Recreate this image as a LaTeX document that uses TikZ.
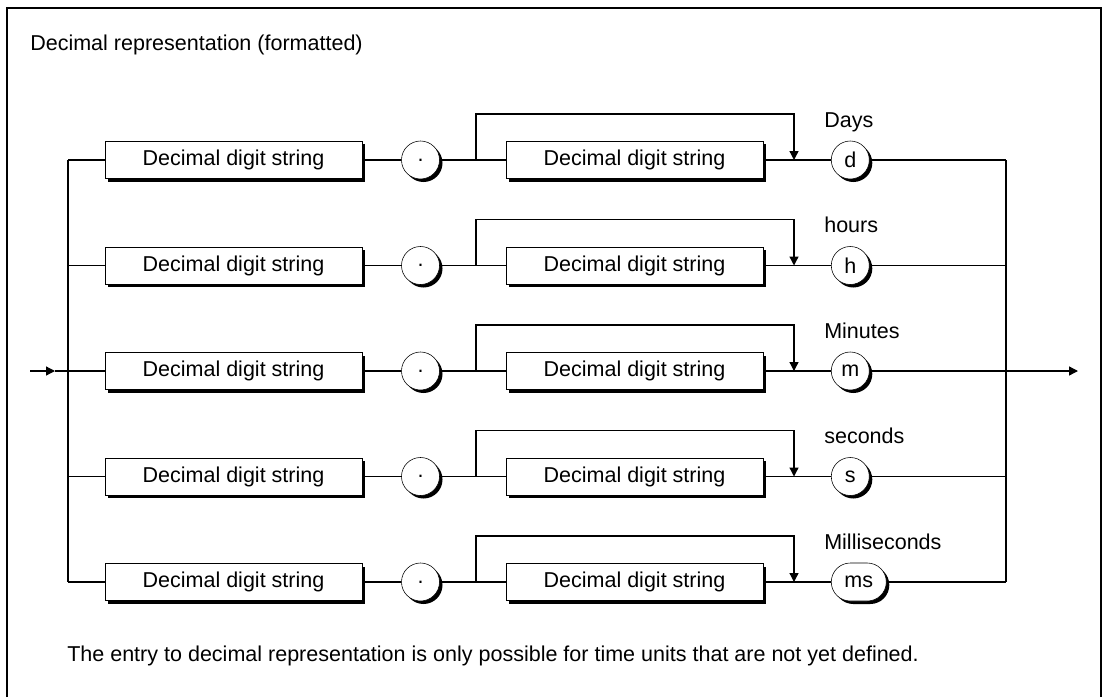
\documentclass[tikz,border=0pt]{standalone}
\usepackage{fontspec}
\setmainfont{Liberation Sans}
\usetikzlibrary{arrows.meta,positioning,shadows}

\tikzset{
  blackshadow/.style={drop shadow={shadow xshift=0.075cm,shadow yshift=-0.075cm,opacity=1,fill=black}},
  digitbox/.style={draw,fill=white,minimum width=6.425cm,minimum height=0.925cm,inner sep=0pt,blackshadow},
  term/.style={draw,fill=white,rounded corners=0.475cm,minimum width=0.95cm,minimum height=0.95cm,inner sep=0pt,blackshadow},
  wire/.style={line width=0.9pt}
}

\begin{document}
\begin{tikzpicture}[x=0.025cm,y=-0.025cm,font=\fontsize{15.3}{18}\selectfont,>={Triangle[length=0.22cm,width=0.22cm]}]
\useasboundingbox (0,0) rectangle (1104,697);
% frame, open at the bottom
\draw[line width=1.4pt] (7,697) -- (7,8) -- (1101,8) -- (1101,697);
\node[anchor=base west,inner sep=0pt] (title) at (30,50) {Decimal representation (formatted)};
% one row per time unit
\foreach \i/\y/\unit/\name/\w in {1/160/d/Days/0.95cm,2/265.5/h/hours/0.95cm,3/371/m/Minutes/0.95cm,4/476.5/s/seconds/0.95cm,5/582/ms/Milliseconds/1.375cm}{
  \node[digitbox] (dds\i) at (233.5,\y) {Decimal digit string};
  \node[term] (dot\i) at (420.5,\y) {.};
  \node[digitbox] (frac\i) at (634.5,\y) {Decimal digit string};
  \node[term,anchor=west,minimum width=\w] (unit\i) at (831,\y) {\unit};
  \node[anchor=base west,inner sep=0pt] (lbl\i) at (824,\y-33) {\name};
  \coordinate (in\i) at (68,\y);
  \coordinate (jin\i) at (476,\y);
  \coordinate (jout\i) at (794,\y);
  \coordinate (out\i) at (1006,\y);
  % main line
  \draw[wire] (in\i) -- (dds\i) -- (dot\i) -- (frac\i) -- (unit\i) -- (out\i);
  % bypass of the fraction
  \draw[wire,->] (jin\i) -- ++(0,-46) -| (jout\i);
}
% collecting rails
\draw[wire] (in1) -- (in5);
\draw[wire] (out1) -- (out5);
% entry and exit
\coordinate (entry) at (30,371);
\coordinate (entrytip) at (55,371);
\coordinate (exit) at (1078,371);
\draw[wire,->] (entry) -- (entrytip);
\draw[wire] (entrytip) -- (in3);
\draw[wire,->] (out3) -- (exit);
\node[anchor=base west,inner sep=0pt] (note) at (67,661.7) {The entry to decimal representation is only possible for time units that are not yet defined.};
\end{tikzpicture}
\end{document}
